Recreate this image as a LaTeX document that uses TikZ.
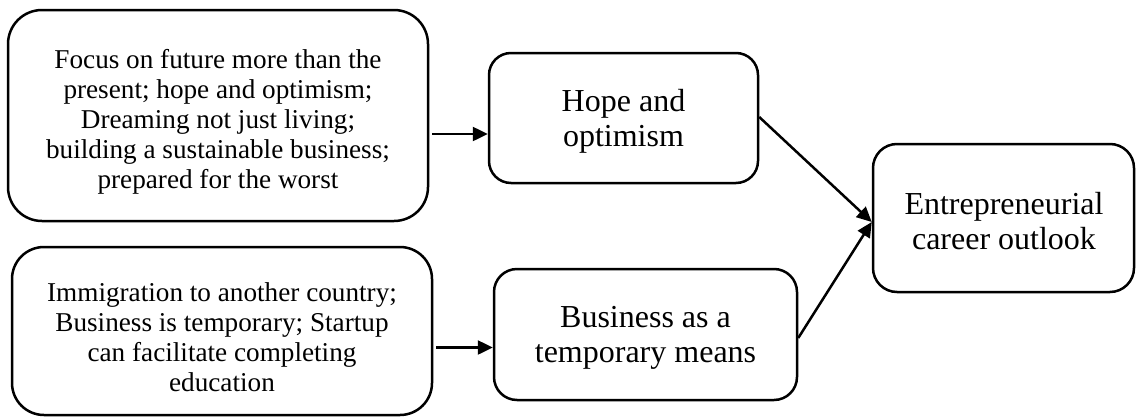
\documentclass[tikz,border=0pt]{standalone}
\usepackage{fontspec}
\setmainfont{Liberation Serif}
\usetikzlibrary{arrows.meta}

\tikzset{
  box/.style={draw, line width=2.5pt, inner sep=0pt},
  smalltext/.style={align=center, inner sep=0pt,
    font=\fontsize{27.2}{30}\selectfont},
  bigtext/.style={align=center, inner sep=0pt,
    font=\fontsize{32}{35}\selectfont},
  link/.style={line width=2.5pt, -{Triangle[length=15pt,width=14pt]}}
}

\begin{document}
\begin{tikzpicture}[x=1pt, y=-1pt]
  \useasboundingbox (0,0) rectangle (1136,418);

  % frames
  \node[box, rounded corners=34pt, minimum width=420pt, minimum height=211pt] (A) at (218,115.5) {};
  \node[box, rounded corners=32pt, minimum width=420pt, minimum height=168pt] (B) at (222,331) {};
  \node[box, rounded corners=22pt, minimum width=269pt, minimum height=130pt] (C) at (623.5,118) {};
  \node[box, rounded corners=23pt, minimum width=303pt, minimum height=131pt] (D) at (645.5,334.5) {};
  \node[box, rounded corners=24pt, minimum width=261pt, minimum height=148pt] (E) at (1003.5,218) {};

  % texts
  \node[smalltext] (Atext) at (218,122) {Focus on future more than the\\present; hope and optimism;\\Dreaming not just living;\\building a sustainable business;\\prepared for the worst};
  \node[smalltext] (Btext) at (222,337) {Immigration to another country;\\Business is temporary; Startup\\can facilitate completing\\education};
  \node[bigtext] (Ctext) at (623.5,121) {Hope and\\optimism};
  \node[bigtext] (Dtext) at (645.5,337.5) {Business as a\\temporary means};
  \node[bigtext] (Etext) at (1004,221) {Entrepreneurial\\career outlook};

  % connectors
  \coordinate (a1) at ([xshift=3pt,yshift=-18.5pt]A.east);
  \coordinate (b1) at ([xshift=3pt,yshift=-16.5pt]B.east);
  \coordinate (e1) at ([yshift=-4pt]E.west);
  \draw[link] (a1) -- (C.west |- a1);
  \draw[link] (b1) -- (D.west |- b1);
  \draw[link] ([yshift=1pt]C.east) -- (e1);
  \draw[link] ([yshift=-3.5pt]D.east) -- (e1);
\end{tikzpicture}
\end{document}
